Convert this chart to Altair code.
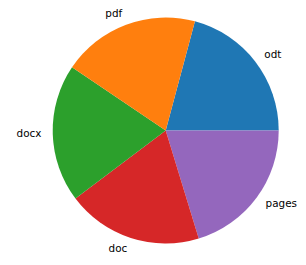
import altair as alt
import pandas as pd
import math

labels = ["odt", "pages", "doc", "docx", "pdf"]
values = [75, 73, 70, 71, 71]
colors = ["#1f77b4", "#9467bd", "#d62728", "#2ca02c", "#ff7f0e"]

df = pd.DataFrame({"label": labels, "value": values, "order": list(range(len(labels)))})
total = sum(values)
start = math.radians(15)
theta_scale = alt.Scale(domain=[0, total], range=[start, start + 2 * math.pi])

CX, CY, R = 157.7, 122.5, 113

base = alt.Chart(df).transform_stack(
    stack="value", as_=["v0", "v1"], groupby=[], sort=[alt.SortField("order")]
).transform_calculate(
    mid="(datum.v0 + datum.v1) / 2",
    ang=f"{start} + (datum.v0 + datum.v1) / 2 / {total} * 2 * PI",
)

arcs = base.mark_arc(outerRadius=R).encode(
    theta=alt.Theta("v0:Q", scale=theta_scale),
    theta2="v1",
    color=alt.Color("label:N", scale=alt.Scale(domain=labels, range=colors), legend=None),
    x=alt.value(CX), y=alt.value(CY),
)

txt_kw = dict(radius=R * 1.1, fontSize=10.4, font="DejaVu Sans", color="black", baseline="middle")
right = base.transform_filter("sin(datum.ang) >= 0").mark_text(align="left", **txt_kw).encode(
    theta=alt.Theta("mid:Q", scale=theta_scale), text="label:N",
    x=alt.value(CX), y=alt.value(CY),
)
left = base.transform_filter("sin(datum.ang) < 0").mark_text(align="right", **txt_kw).encode(
    theta=alt.Theta("mid:Q", scale=theta_scale), text="label:N",
    x=alt.value(CX), y=alt.value(CY),
)

chart = alt.layer(arcs, right, left).properties(
    width=290, height=245, padding=0, autosize="none"
).configure_view(stroke=None)

chart.save("out.html", embed_options={"renderer": "svg", "actions": False})
